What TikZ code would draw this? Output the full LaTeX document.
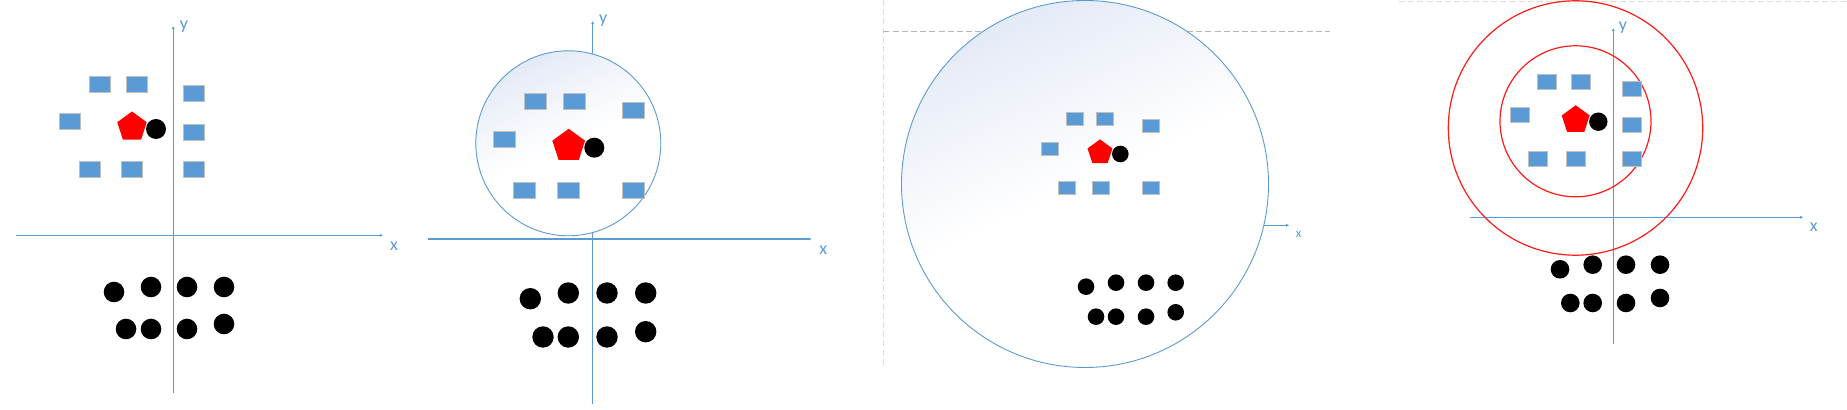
\documentclass[tikz,border=0pt]{standalone}
\usepackage{fontspec}
\setmainfont{Carlito}
\usetikzlibrary{shapes.geometric,arrows.meta}
\definecolor{axblue}{HTML}{5B9BD5}
\definecolor{sqborder}{HTML}{BFBFBF}
\definecolor{shadeblue}{HTML}{E4EAF6}
\definecolor{dashgray}{HTML}{B4B4B4}
\definecolor{faintgray}{HTML}{DDDDDD}
\definecolor{ringred}{HTML}{FF1A1A}
\begin{document}
\begin{tikzpicture}[x=0.5pt,y=-0.5pt,
  axis/.style={draw=axblue,line width=0.65pt,-{Latex[length=1.6pt,width=1.6pt]}},
  lbl/.style={text=axblue,inner sep=0,font=\fontsize{9pt}{10pt}\selectfont},
  box/.style n args={2}{rectangle,fill=axblue,draw=sqborder,line width=0.5pt,inner sep=0,minimum width=#1,minimum height=#2},
  pent/.style={regular polygon,regular polygon sides=5,fill=red,inner sep=0,minimum size=#1},
  dot/.style={circle,fill=black,inner sep=0,minimum size=#1},
  ring/.style={circle,draw=ringred,line width=0.6pt,inner sep=0,minimum size=#1},
  bubble/.style={circle,draw=axblue,line width=0.45pt,inner sep=0,minimum size=#1,
    top color=shadeblue,bottom color=white,middle color=white,shading angle=25},
  guide/.style={draw=dashgray,line width=0.5pt,dash pattern=on 3pt off 1.6pt}]
\useasboundingbox (0,0) rectangle (1847,410);

% ---------------- Panel 1 ----------------
\coordinate (p1l) at (16,235.3);
\coordinate (p1r) at (383,235.3);
\coordinate (p1b) at (173.3,393);
\coordinate (p1t) at (173.3,26);
\draw[axis] (p1l) -- (p1r);
\draw[axis] (p1b) -- (p1t);
\node[lbl] (p1x) at (394,246.5) {x};
\node[lbl] (p1y) at (184,26.5) {y};
\foreach \p [count=\i] in {(100,85),(137,85),(194,94),(70,122),(194,133),(90,170),(132,170),(194,170)}
  \node[box={10.5pt}{8pt}] (p1s\i) at \p {};
\node[pent=15.5pt] (p1q) at (132,127) {};
\node[dot=10pt] (p1c) at (156,129) {};
\foreach \p [count=\i] in {(114,292),(151,287),(187,287),(224,287),(126,329),(151,329),(187,329),(224,324)}
  \node[dot=10.3pt] (p1d\i) at \p {};

% ---------------- Panel 2 ----------------
\coordinate (p2l) at (428,239);
\coordinate (p2r) at (811.7,239);
\coordinate (p2b) at (592.7,404);
\coordinate (p2t) at (592.7,21);
\draw[axis] (p2l) -- (p2r);
\draw[axis] (p2b) -- (p2t);
\node[lbl] (p2x) at (823.3,250.3) {x};
\node[lbl] (p2y) at (603.3,20.8) {y};
\node[bubble=92.5pt] (p2o) at (568.3,143.3) {};
\foreach \p [count=\i] in {(535.7,102),(574.3,102),(633.3,110.7),(504.3,140),(524.7,190.7),(568.3,190.7),(633.3,190.7)}
  \node[box={11pt}{8pt}] (p2s\i) at \p {};
\node[pent=17.2pt] (p2q) at (568.7,146) {};
\node[dot=10pt] (p2c) at (594.3,147.7) {};
\foreach \p [count=\i] in {(530.3,298.7),(568.3,293),(607,293),(645.7,293),(543,337),(568.3,337),(607,337),(645.7,331.7)}
  \node[dot=10.7pt] (p2d\i) at \p {};

% ---------------- Panel 3 ----------------
\coordinate (g3t) at (883.3,0);
\coordinate (g3b) at (883.3,367);
\coordinate (g3l) at (883.3,31.7);
\coordinate (g3r) at (1330,31.7);
\draw[guide,draw=faintgray] (g3t) -- (g3b);
\draw[guide] (g3l) -- (g3r);
\coordinate (p3l) at (1200,225.3);
\coordinate (p3r) at (1289.3,225.3);
\draw[axis,line width=0.5pt] (p3l) -- (p3r);
\node[lbl,font=\fontsize{6.5pt}{7pt}\selectfont] (p3x) at (1298.7,234) {x};
\node[bubble=183.5pt] (p3o) at (1085,184) {};
\foreach \p [count=\i] in {(1075,119),(1105,119),(1150.7,125.7),(1050,149),(1067,187.7),(1101,187.7),(1150.7,187.7)}
  \node[box={8.5pt}{6.5pt}] (p3s\i) at \p {};
\node[pent=13.1pt] (p3q) at (1100,152.5) {};
\node[dot=8.3pt] (p3c) at (1120.3,154) {};
\foreach \p [count=\i] in {(1086,286.7),(1116,282.7),(1146,282.7),(1175.7,282.7),(1096,316.7),(1116,316.7),(1146,316.7),(1175.7,312.3)}
  \node[dot=8.3pt] (p3d\i) at \p {};

% ---------------- Panel 4 ----------------
\coordinate (g4l) at (1399,1.3);
\coordinate (g4r) at (1847,1.3);
\draw[guide,draw=faintgray] (g4l) -- (g4r);
\coordinate (p4l) at (1470,217.3);
\coordinate (p4r) at (1803.3,217.3);
\coordinate (p4b) at (1613.3,344);
\coordinate (p4t) at (1613.3,28);
\draw[axis] (p4l) -- (p4r);
\draw[axis] (p4b) -- (p4t);
\node[lbl] (p4x) at (1813.7,227.7) {x};
\node[lbl] (p4y) at (1623,28) {y};
\node[ring=127.2pt] (p4big) at (1575.5,128) {};
\node[ring=75.5pt] (p4small) at (1575.5,121.3) {};
\foreach \p [count=\i] in {(1547,82),(1581,82),(1632,89.3),(1520,115.3),(1632,124.7),(1538,159),(1576,159),(1632,159)}
  \node[box={9.5pt}{7.5pt}] (p4s\i) at \p {};
\node[pent=14.7pt] (p4q) at (1575.7,120) {};
\node[dot=9.2pt] (p4c) at (1598.3,121.7) {};
\foreach \p [count=\i] in {(1560,269.3),(1592.7,264.7),(1626,264.7),(1660,264.7),(1570.3,303),(1592.7,303),(1626,303),(1660,298)}
  \node[dot=9.3pt] (p4d\i) at \p {};
\end{tikzpicture}
\end{document}
